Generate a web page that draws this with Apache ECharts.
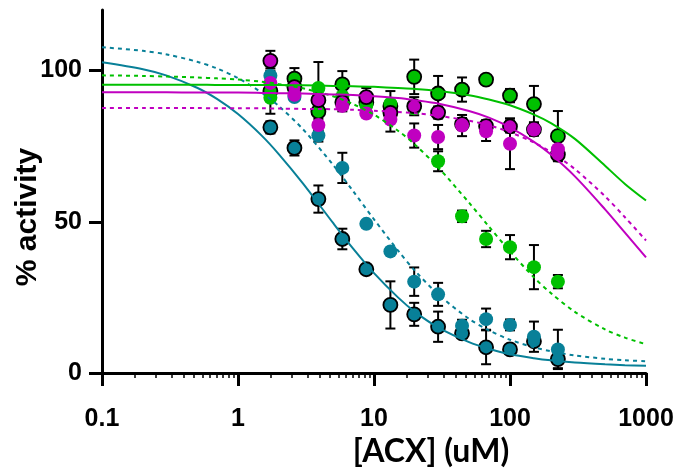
<!DOCTYPE html>
<html><head><meta charset="utf-8">
<script src="https://cdn.jsdelivr.net/npm/echarts@6/dist/echarts.min.js"></script>
<style>html,body{margin:0;padding:0;background:#fff}#c{width:677px;height:468px}</style>
</head><body><div id="c"></div>
<script>
// concentrations (uM)
const conc = [1.73, 2.6, 3.9, 5.85, 8.78, 13.2, 19.75, 29.6, 44.4, 66.7, 100, 150, 225];
// measured points (% activity) and error half-widths
const tealSolidPts = [81.2, 74.4, 57.5, 44.3, 34.3, 22.5, 19.4, 15.3, 13.1, 8.5, 7.8, 10.5, 4.6];
const tealSolidErr = [2, 2.5, 4.5, 3.4, 1.5, 7.8, 3.8, 5, 1.5, 5.6, 1.2, 1.5, 3];
const tealDashPts  = [98.3, 91.2, 78.5, 67.8, 49.3, 40.2, 30.2, 26.0, 15.6, 17.8, 15.9, 12.0, 7.8];
const tealDashErr  = [0, 0, 2, 5, 0, 0, 4.7, 3.8, 2, 3.5, 1.8, 5, 6.5];
const greenSolidPts = [93.2, 97.3, 86.4, 95.4, 89.5, 88.2, 97.9, 92.4, 93.7, 97.0, 91.7, 88.9, 78.3];
const greenSolidErr = [7.5, 3.5, 6.5, 4.4, 3, 5, 5.7, 5.8, 4, 0, 2.2, 6, 8.3];
const greenDashPts  = [91.0, 93.5, 94.2, 91.5, 88.5, 89.0, 87.5, 70.0, 51.8, 44.3, 41.6, 35.0, 30.2];
const greenDashErr  = [0, 0, 8.6, 0, 0, 0, 0, 3.3, 1.9, 2.7, 4, 7.3, 2.2];
const purpleSolidPts = [103.2, 94.5, 90.2, 89.5, 91.2, 86.0, 88.2, 86.1, 82.3, 81.6, 81.5, 80.5, 72.2];
const purpleSolidErr = [3.3, 2, 3, 3, 3, 2, 3, 2, 2, 2, 2, 2, 1.5];
const magentaDashPts = [95.9, 92.0, 82.0, 88.3, 85.8, 83.8, 78.5, 78.0, 81.8, 79.9, 75.8, 80.5, 74.0];
const magentaDashErr = [0, 0, 2, 0, 0, 4, 4, 4, 3.5, 3.2, 8.4, 2, 0];

// fitted curves
const curveX = [0.1, 0.2, 0.3, 0.5, 0.7, 1, 1.5, 2, 3, 5, 7, 10, 15, 20, 30, 50, 70, 100, 150, 200, 300, 500, 700, 1000];
const tealSolidFit  = [102.7, 100.4, 98.3, 94.3, 90.6, 85.6, 78.4, 72.3, 62.7, 49.6, 41.2, 33.0, 25.0, 20.2, 14.9, 10.2, 8.0, 6.2, 4.9, 4.2, 3.5, 2.9, 2.6, 2.4];
const tealDashFit   = [107.7, 106.5, 105.3, 102.9, 100.7, 97.5, 92.6, 88.2, 80.6, 68.8, 60.2, 50.8, 40.5, 33.8, 25.8, 17.9, 14.1, 11.0, 8.5, 7.2, 5.8, 4.7, 4.2, 3.9];
const greenSolidFit = [95.3, 95.3, 95.3, 95.3, 95.2, 95.2, 95.2, 95.2, 95.1, 94.9, 94.8, 94.6, 94.2, 93.9, 93.2, 91.8, 90.4, 88.5, 85.4, 82.6, 77.4, 68.5, 62.5, 57.0];
const greenDashFit  = [98.4, 98.2, 98.0, 97.7, 97.4, 97.0, 96.3, 95.5, 94.1, 91.5, 88.9, 85.4, 80.1, 75.5, 67.7, 56.3, 48.4, 40.2, 31.6, 26.4, 20.2, 14.4, 11.7, 9.5];
const purpleSolidFit = [92.8, 92.8, 92.8, 92.7, 92.7, 92.7, 92.6, 92.5, 92.4, 92.1, 91.9, 91.5, 90.9, 90.2, 89.0, 86.6, 84.4, 81.2, 76.4, 72.2, 65.0, 54.1, 46.4, 38.2];
const magentaDashFit = [87.6, 87.6, 87.6, 87.6, 87.5, 87.5, 87.5, 87.4, 87.3, 87.2, 87.0, 86.7, 86.3, 85.9, 85.0, 83.4, 81.9, 79.6, 76.2, 73.0, 67.4, 58.4, 51.5, 43.8];

const xTickLabels = ['0.1', '1', '10', '100', '1000'];
const yTicks = [0, 50, 100];

const TEAL = '#088098', GREEN = '#00c000', MAG = '#c000c0';

const sets = [
  {pts: tealSolidPts, err: tealSolidErr, fit: tealSolidFit, color: TEAL, border: true, dash: false},
  {pts: tealDashPts, err: tealDashErr, fit: tealDashFit, color: TEAL, border: false, dash: true},
  {pts: greenSolidPts, err: greenSolidErr, fit: greenSolidFit, color: GREEN, border: true, dash: false},
  {pts: greenDashPts, err: greenDashErr, fit: greenDashFit, color: GREEN, border: false, dash: true},
  {pts: purpleSolidPts, err: purpleSolidErr, fit: purpleSolidFit, color: MAG, border: true, dash: false},
  {pts: magentaDashPts, err: magentaDashErr, fit: magentaDashFit, color: MAG, border: false, dash: true}
];

const errData = [];
sets.forEach(s => s.pts.forEach((v, i) => { if (s.err[i] > 0) errData.push([conc[i], v, s.err[i]]); }));

const series = [];
series.push({
  type: 'custom', z: 1, data: errData,
  renderItem: function (params, api) {
    const x = api.value(0), y = api.value(1), e = api.value(2);
    const t = api.coord([x, y + e]), b = api.coord([x, y - e]);
    const hw = 5, st = {stroke: '#000', lineWidth: 2};
    return {type: 'group', children: [
      {type: 'line', shape: {x1: t[0], y1: t[1], x2: b[0], y2: b[1]}, style: st},
      {type: 'line', shape: {x1: t[0] - hw, y1: t[1], x2: t[0] + hw, y2: t[1]}, style: st},
      {type: 'line', shape: {x1: b[0] - hw, y1: b[1], x2: b[0] + hw, y2: b[1]}, style: st}
    ]};
  }
});
sets.forEach(s => {
  series.push({
    type: 'scatter', z: 2, symbol: 'circle', symbolSize: 14,
    data: s.pts.map((v, i) => [conc[i], v]),
    itemStyle: {color: s.color, borderColor: s.border ? '#000' : s.color, borderWidth: s.border ? 1.8 : 0, opacity: 1}
  });
});
sets.forEach(s => {
  series.push({
    type: 'line', z: 3, smooth: 0.3, symbol: 'none', silent: true,
    data: curveX.map((x, i) => [x, s.fit[i]]),
    lineStyle: {color: s.color, width: 2, type: s.dash ? [4, 4] : 'solid'}
  });
});

const chart = echarts.init(document.getElementById('c'), null, {renderer: 'canvas'});
chart.setOption({
  animation: false,
  backgroundColor: '#fff',
  grid: {left: 102, right: 31, top: 10, bottom: 95},
  xAxis: {
    type: 'log', logBase: 10, min: 0.1, max: 1000,
    axisLine: {lineStyle: {color: '#000', width: 3}},
    axisTick: {length: 13, lineStyle: {color: '#000', width: 3}},
    minorTick: {show: true, splitNumber: 12, length: 5, lineStyle: {color: '#000', width: 1.5}},
    axisLabel: {color: '#000', fontSize: 25, fontWeight: 'bold', fontFamily: 'Liberation Sans', margin: 34,
      formatter: v => xTickLabels[Math.round(Math.log10(v)) + 1]},
    splitLine: {show: false}
  },
  yAxis: {
    type: 'value', min: 0, max: 120,
    axisLine: {show: true, lineStyle: {color: '#000', width: 3}},
    axisTick: {show: true, length: 13, lineStyle: {color: '#000', width: 3}, customValues: yTicks},
    axisLabel: {color: '#000', fontSize: 25, fontWeight: 'bold', fontFamily: 'Liberation Sans', margin: 20, customValues: yTicks},
    splitLine: {show: false}
  },
  graphic: [
    {type: 'text', x: 28, y: 217, rotation: Math.PI / 2,
      style: {text: '% activity', fontSize: 30, fontWeight: 'bold', fontFamily: 'Liberation Sans', fill: '#000', align: 'center', verticalAlign: 'middle'}},
    {type: 'text', x: 431, y: 452,
      style: {text: '[ACX] (uM)', fontSize: 32, fontWeight: 'bold', fontFamily: 'Lato', fill: '#000', align: 'center', verticalAlign: 'middle'}}
  ],
  series: series
});
</script></body></html>
